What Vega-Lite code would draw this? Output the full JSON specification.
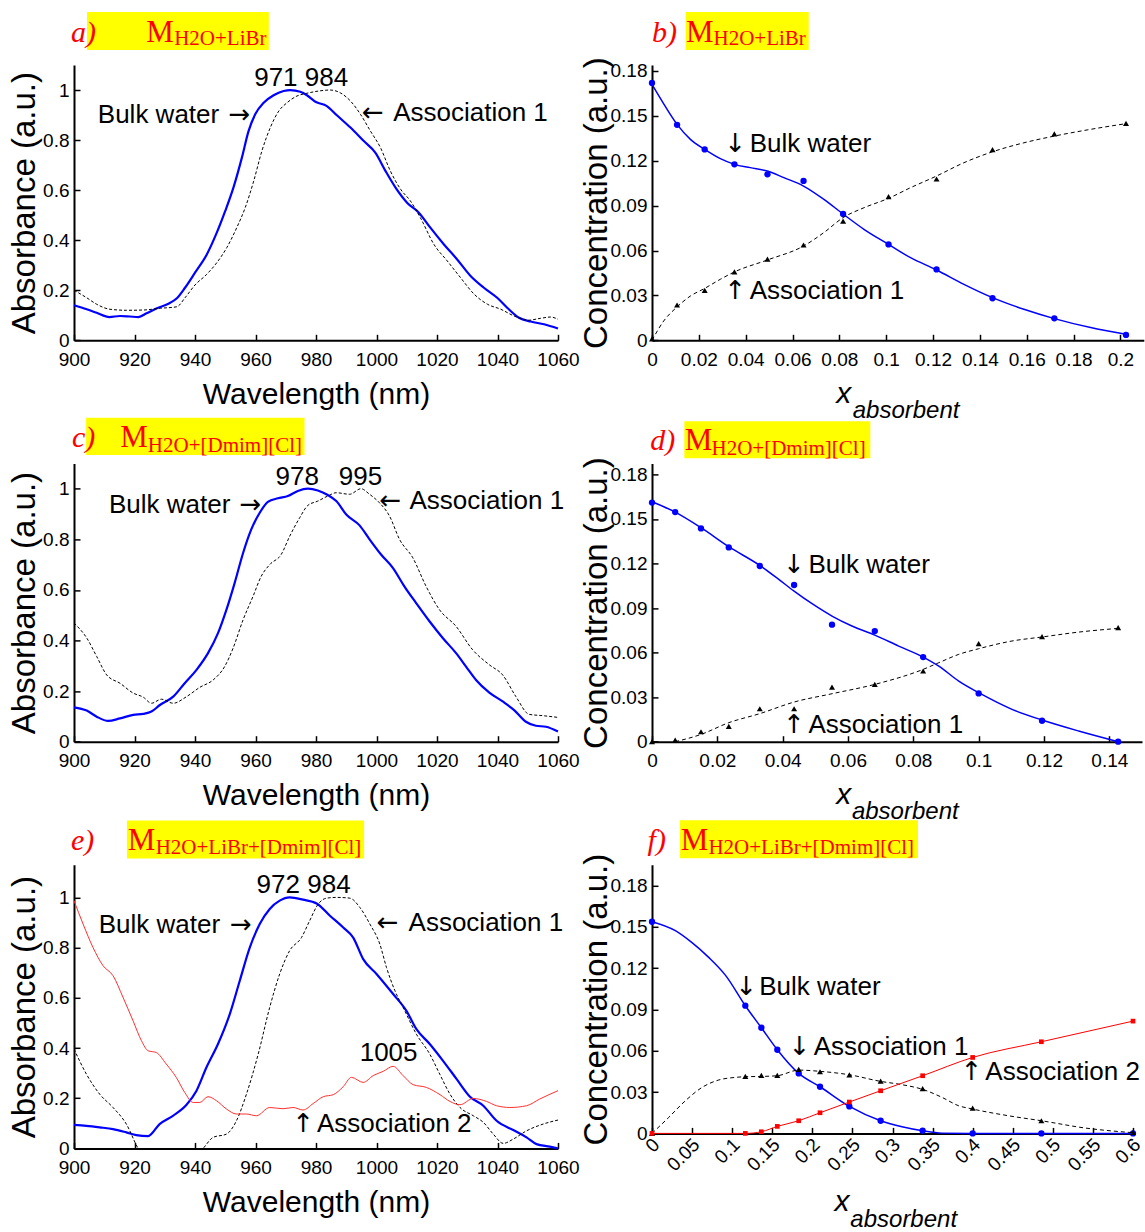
{
"$schema":"https://vega.github.io/schema/vega-lite/v6.json",
"padding":{"left":7,"top":11,"right":0,"bottom":0},
"background":"white",
"config":{
 "view":{"stroke":null},
 "font":"Liberation Sans",
 "axis":{"grid":false,"domainColor":"black","domainWidth":2,"tickColor":"black","tickWidth":1.5,"tickSize":-6,"labelFontSize":19,"labelColor":"black","labelFont":"Liberation Sans","labelFlush":false,"labelOverlap":false,"titleColor":"black","titleFont":"Liberation Sans","titleFontWeight":"normal"},
 "axisX":{"labelPadding":16},
 "axisY":{"labelPadding":11},
 "text":{"font":"Liberation Sans","fontSize":26,"color":"black","baseline":"alphabetic"}
},
"datasets":{
"aBulk":[{"x":900,"y":0.14},{"x":904.2,"y":0.124},{"x":907.5,"y":0.11},{"x":911.7,"y":0.093},{"x":915.2,"y":0.097},{"x":918.5,"y":0.095},{"x":921.3,"y":0.093},{"x":924,"y":0.108},{"x":927.4,"y":0.128},{"x":931.2,"y":0.146},{"x":934,"y":0.168},{"x":936.7,"y":0.21},{"x":940,"y":0.27},{"x":943.9,"y":0.343},{"x":947.2,"y":0.43},{"x":950,"y":0.517},{"x":952.7,"y":0.61},{"x":955.5,"y":0.73},{"x":957.7,"y":0.836},{"x":959.9,"y":0.903},{"x":962.7,"y":0.949},{"x":966,"y":0.979},{"x":969.3,"y":0.996},{"x":971.5,"y":1.0},{"x":974.8,"y":0.993},{"x":977,"y":0.979},{"x":979.8,"y":0.953},{"x":983.6,"y":0.936},{"x":986.9,"y":0.899},{"x":991.4,"y":0.85},{"x":995.8,"y":0.796},{"x":999.6,"y":0.75},{"x":1003,"y":0.676},{"x":1006.3,"y":0.61},{"x":1010.1,"y":0.55},{"x":1014,"y":0.51},{"x":1017.8,"y":0.45},{"x":1022.3,"y":0.383},{"x":1026.6,"y":0.324},{"x":1031.1,"y":0.257},{"x":1035.5,"y":0.21},{"x":1039.9,"y":0.17},{"x":1043.2,"y":0.13},{"x":1047.1,"y":0.09},{"x":1051,"y":0.075},{"x":1055.4,"y":0.064},{"x":1060,"y":0.047}],
"aAssoc":[{"x":900,"y":0.2},{"x":904.2,"y":0.17},{"x":907.5,"y":0.144},{"x":911.9,"y":0.124},{"x":917.4,"y":0.12},{"x":923,"y":0.121},{"x":928.5,"y":0.128},{"x":934,"y":0.134},{"x":936.7,"y":0.17},{"x":940,"y":0.221},{"x":943.9,"y":0.264},{"x":947.2,"y":0.31},{"x":950.5,"y":0.37},{"x":953.8,"y":0.45},{"x":956.6,"y":0.53},{"x":959.4,"y":0.636},{"x":962.1,"y":0.756},{"x":964.9,"y":0.85},{"x":967.7,"y":0.916},{"x":970.4,"y":0.949},{"x":973.7,"y":0.976},{"x":977,"y":0.987},{"x":980.9,"y":0.996},{"x":984.7,"y":1.0},{"x":988,"y":0.989},{"x":991.4,"y":0.956},{"x":994.7,"y":0.903},{"x":998,"y":0.836},{"x":1001.3,"y":0.77},{"x":1004.6,"y":0.676},{"x":1008,"y":0.603},{"x":1011.2,"y":0.557},{"x":1014.5,"y":0.49},{"x":1019,"y":0.383},{"x":1023.4,"y":0.317},{"x":1027.8,"y":0.25},{"x":1032.3,"y":0.184},{"x":1036.7,"y":0.144},{"x":1041.1,"y":0.124},{"x":1045.5,"y":0.097},{"x":1050,"y":0.08},{"x":1054.3,"y":0.088},{"x":1057.6,"y":0.093},{"x":1060,"y":0.084}],
"cBulk":[{"x":900,"y":0.136},{"x":904.2,"y":0.123},{"x":907.5,"y":0.099},{"x":911.3,"y":0.082},{"x":915.2,"y":0.092},{"x":919.6,"y":0.106},{"x":922.9,"y":0.11},{"x":925.6,"y":0.119},{"x":928.4,"y":0.145},{"x":932.8,"y":0.178},{"x":936.6,"y":0.231},{"x":940.5,"y":0.284},{"x":944.3,"y":0.35},{"x":947.6,"y":0.429},{"x":950.4,"y":0.522},{"x":953.1,"y":0.627},{"x":955.9,"y":0.746},{"x":958.6,"y":0.839},{"x":961.4,"y":0.905},{"x":964.1,"y":0.948},{"x":967.4,"y":0.962},{"x":970.7,"y":0.971},{"x":974,"y":0.991},{"x":977.3,"y":1.0},{"x":980.6,"y":0.993},{"x":983.9,"y":0.975},{"x":986.7,"y":0.951},{"x":990,"y":0.898},{"x":994.4,"y":0.855},{"x":997.7,"y":0.8},{"x":1001.5,"y":0.74},{"x":1005.4,"y":0.687},{"x":1009.2,"y":0.614},{"x":1013.1,"y":0.548},{"x":1017.5,"y":0.476},{"x":1021.9,"y":0.41},{"x":1026.3,"y":0.35},{"x":1029.6,"y":0.297},{"x":1032.9,"y":0.244},{"x":1037.3,"y":0.194},{"x":1041.7,"y":0.159},{"x":1045.5,"y":0.125},{"x":1049.4,"y":0.079},{"x":1052.7,"y":0.063},{"x":1056,"y":0.059},{"x":1060,"y":0.04}],
"cAssoc":[{"x":900,"y":0.469},{"x":904.2,"y":0.41},{"x":907.5,"y":0.337},{"x":910.8,"y":0.264},{"x":915.2,"y":0.231},{"x":919.6,"y":0.192},{"x":922.9,"y":0.176},{"x":925.6,"y":0.152},{"x":928.9,"y":0.168},{"x":932.8,"y":0.152},{"x":937.2,"y":0.178},{"x":941.6,"y":0.215},{"x":946,"y":0.244},{"x":949.8,"y":0.297},{"x":952.6,"y":0.37},{"x":955.9,"y":0.482},{"x":959.2,"y":0.575},{"x":961.9,"y":0.654},{"x":964.7,"y":0.7},{"x":968.5,"y":0.74},{"x":971.3,"y":0.812},{"x":974.6,"y":0.885},{"x":977.3,"y":0.934},{"x":980.6,"y":0.951},{"x":983.9,"y":0.971},{"x":986.7,"y":0.984},{"x":991.1,"y":0.978},{"x":994.9,"y":1.0},{"x":997.7,"y":0.978},{"x":1001,"y":0.944},{"x":1004.3,"y":0.892},{"x":1007.6,"y":0.8},{"x":1012,"y":0.727},{"x":1016.4,"y":0.614},{"x":1020.8,"y":0.522},{"x":1026.3,"y":0.456},{"x":1031.8,"y":0.363},{"x":1037.3,"y":0.304},{"x":1041.7,"y":0.264},{"x":1046.1,"y":0.178},{"x":1050.5,"y":0.108},{"x":1054.9,"y":0.103},{"x":1060,"y":0.096}],
"eBulk":[{"x":900,"y":0.094},{"x":904.1,"y":0.09},{"x":908.5,"y":0.084},{"x":912.9,"y":0.077},{"x":917.3,"y":0.064},{"x":920.6,"y":0.053},{"x":924.5,"y":0.049},{"x":928.3,"y":0.097},{"x":932.7,"y":0.13},{"x":937.2,"y":0.174},{"x":940.5,"y":0.23},{"x":943.8,"y":0.323},{"x":947.6,"y":0.416},{"x":951.5,"y":0.535},{"x":954.8,"y":0.668},{"x":958.1,"y":0.8},{"x":961.4,"y":0.894},{"x":964.7,"y":0.954},{"x":968,"y":0.987},{"x":971.3,"y":1.0},{"x":975.7,"y":0.991},{"x":980.2,"y":0.976},{"x":984.6,"y":0.927},{"x":989,"y":0.88},{"x":992.3,"y":0.84},{"x":995.6,"y":0.754},{"x":1000,"y":0.695},{"x":1005.5,"y":0.615},{"x":1009.9,"y":0.548},{"x":1013.2,"y":0.475},{"x":1017.6,"y":0.416},{"x":1022,"y":0.349},{"x":1026.5,"y":0.276},{"x":1030.9,"y":0.206},{"x":1035.3,"y":0.17},{"x":1039.7,"y":0.11},{"x":1045.2,"y":0.073},{"x":1049.6,"y":0.044},{"x":1052.9,"y":0.017},{"x":1057.3,"y":0.007},{"x":1060,"y":0.0}],
"eAssoc":[{"x":900,"y":0.396},{"x":904.1,"y":0.296},{"x":908.5,"y":0.216},{"x":912.9,"y":0.163},{"x":917.3,"y":0.097},{"x":921.2,"y":0.0},{"x":925,"y":-0.06},{"x":932,"y":-0.1},{"x":938,"y":-0.06},{"x":942.7,"y":0.0},{"x":946,"y":0.044},{"x":950.4,"y":0.057},{"x":953.7,"y":0.11},{"x":957,"y":0.216},{"x":960.9,"y":0.376},{"x":964.7,"y":0.562},{"x":968,"y":0.695},{"x":971.3,"y":0.788},{"x":975.2,"y":0.84},{"x":977.9,"y":0.907},{"x":980.7,"y":0.973},{"x":983.5,"y":0.997},{"x":986.8,"y":1.0},{"x":991.2,"y":0.997},{"x":994.5,"y":0.96},{"x":997.8,"y":0.894},{"x":1001.1,"y":0.814},{"x":1003.3,"y":0.721},{"x":1006.1,"y":0.628},{"x":1008.8,"y":0.562},{"x":1013.2,"y":0.455},{"x":1017.6,"y":0.376},{"x":1020.9,"y":0.296},{"x":1024.3,"y":0.216},{"x":1027.6,"y":0.163},{"x":1032,"y":0.13},{"x":1035.3,"y":0.104},{"x":1038.6,"y":0.057},{"x":1041.9,"y":0.02},{"x":1045.2,"y":0.037},{"x":1049.6,"y":0.07},{"x":1055.1,"y":0.097},{"x":1060,"y":0.113}],
"eA2":[{"x":900,"y":0.987},{"x":903,"y":0.894},{"x":906.3,"y":0.8},{"x":909.6,"y":0.728},{"x":912.9,"y":0.688},{"x":916.2,"y":0.602},{"x":919.5,"y":0.509},{"x":922.3,"y":0.429},{"x":924.5,"y":0.389},{"x":927.2,"y":0.382},{"x":930.5,"y":0.336},{"x":933.8,"y":0.283},{"x":936.6,"y":0.223},{"x":939.4,"y":0.183},{"x":941.6,"y":0.183},{"x":944.3,"y":0.206},{"x":947.1,"y":0.19},{"x":950.4,"y":0.157},{"x":953.7,"y":0.137},{"x":957,"y":0.137},{"x":960.3,"y":0.13},{"x":964.7,"y":0.163},{"x":969.1,"y":0.158},{"x":972.4,"y":0.163},{"x":975.7,"y":0.153},{"x":979.1,"y":0.179},{"x":982.4,"y":0.206},{"x":985.7,"y":0.214},{"x":989,"y":0.246},{"x":991.7,"y":0.283},{"x":995.6,"y":0.263},{"x":998.9,"y":0.29},{"x":1002.2,"y":0.307},{"x":1005.5,"y":0.327},{"x":1008.8,"y":0.29},{"x":1012.1,"y":0.254},{"x":1016.5,"y":0.243},{"x":1021,"y":0.214},{"x":1024.3,"y":0.187},{"x":1027.6,"y":0.174},{"x":1032,"y":0.199},{"x":1036.4,"y":0.187},{"x":1039.7,"y":0.17},{"x":1044.1,"y":0.163},{"x":1049.6,"y":0.17},{"x":1054,"y":0.197},{"x":1060,"y":0.23}],
"bBulkPts":[{"x":0,"y":0.172},{"x":0.0107,"y":0.144},{"x":0.0225,"y":0.1276},{"x":0.0352,"y":0.1176},{"x":0.0493,"y":0.1109},{"x":0.0647,"y":0.1065},{"x":0.0816,"y":0.0844},{"x":0.101,"y":0.0641},{"x":0.1215,"y":0.0474},{"x":0.1454,"y":0.0281},{"x":0.1718,"y":0.0147},{"x":0.2024,"y":0.0036}],
"bBulkLine":[{"x":0,"y":0.171},{"x":0.005,"y":0.158},{"x":0.0107,"y":0.1443},{"x":0.0164,"y":0.1343},{"x":0.0225,"y":0.1276},{"x":0.0292,"y":0.1214},{"x":0.0352,"y":0.1176},{"x":0.042,"y":0.1154},{"x":0.0493,"y":0.1131},{"x":0.0563,"y":0.1087},{"x":0.0647,"y":0.1031},{"x":0.0734,"y":0.0942},{"x":0.0816,"y":0.0844},{"x":0.0905,"y":0.0742},{"x":0.101,"y":0.0641},{"x":0.1104,"y":0.0552},{"x":0.1215,"y":0.047},{"x":0.1332,"y":0.0374},{"x":0.1454,"y":0.0285},{"x":0.1588,"y":0.0207},{"x":0.1718,"y":0.0145},{"x":0.1873,"y":0.0085},{"x":0.2024,"y":0.004}],
"bAssocPts":[{"x":0,"y":0.001},{"x":0.0107,"y":0.0236},{"x":0.0225,"y":0.0334},{"x":0.0352,"y":0.0457},{"x":0.0493,"y":0.0543},{"x":0.0647,"y":0.0637},{"x":0.0816,"y":0.0797},{"x":0.101,"y":0.096},{"x":0.1215,"y":0.1078},{"x":0.1454,"y":0.1274},{"x":0.1718,"y":0.138},{"x":0.2024,"y":0.145}],
"bAssocLine":[{"x":0,"y":0},{"x":0.005,"y":0.0129},{"x":0.0107,"y":0.0223},{"x":0.0164,"y":0.0296},{"x":0.0225,"y":0.0347},{"x":0.0292,"y":0.0408},{"x":0.0352,"y":0.0457},{"x":0.0493,"y":0.0537},{"x":0.0647,"y":0.063},{"x":0.0734,"y":0.072},{"x":0.0816,"y":0.082},{"x":0.0905,"y":0.0886},{"x":0.101,"y":0.0949},{"x":0.1104,"y":0.102},{"x":0.1215,"y":0.1098},{"x":0.1332,"y":0.1187},{"x":0.1454,"y":0.126},{"x":0.1588,"y":0.132},{"x":0.1718,"y":0.1365},{"x":0.1873,"y":0.141},{"x":0.2024,"y":0.1448}],
"dBulkPts":[{"x":0,"y":0.161},{"x":0.0071,"y":0.1546},{"x":0.015,"y":0.1436},{"x":0.0235,"y":0.1308},{"x":0.033,"y":0.1183},{"x":0.0435,"y":0.1055},{"x":0.0551,"y":0.0788},{"x":0.0682,"y":0.0745},{"x":0.083,"y":0.057},{"x":0.1,"y":0.0325},{"x":0.1194,"y":0.0141},{"x":0.1427,"y":0.0}],
"dBulkLine":[{"x":0,"y":0.1616},{"x":0.0071,"y":0.1546},{"x":0.015,"y":0.1441},{"x":0.0235,"y":0.1313},{"x":0.033,"y":0.1187},{"x":0.0388,"y":0.1093},{"x":0.0435,"y":0.1014},{"x":0.049,"y":0.0929},{"x":0.0551,"y":0.0846},{"x":0.0612,"y":0.0779},{"x":0.0682,"y":0.0718},{"x":0.0755,"y":0.0644},{"x":0.083,"y":0.057},{"x":0.0878,"y":0.0509},{"x":0.0939,"y":0.0408},{"x":0.1,"y":0.033},{"x":0.1102,"y":0.0218},{"x":0.1194,"y":0.0146},{"x":0.1306,"y":0.0072},{"x":0.1427,"y":0.0}],
"dAssocPts":[{"x":0,"y":0.0},{"x":0.0071,"y":0.001},{"x":0.015,"y":0.0067},{"x":0.0235,"y":0.0103},{"x":0.033,"y":0.0222},{"x":0.0435,"y":0.0222},{"x":0.0551,"y":0.0368},{"x":0.0682,"y":0.0386},{"x":0.083,"y":0.0476},{"x":0.1,"y":0.066},{"x":0.1194,"y":0.0707},{"x":0.1427,"y":0.0768}],
"dAssocLine":[{"x":0.0071,"y":0},{"x":0.015,"y":0.0049},{"x":0.0235,"y":0.0128},{"x":0.033,"y":0.0189},{"x":0.0435,"y":0.0267},{"x":0.0551,"y":0.0323},{"x":0.0682,"y":0.0386},{"x":0.083,"y":0.0487},{"x":0.0878,"y":0.0532},{"x":0.0939,"y":0.0588},{"x":0.1,"y":0.0626},{"x":0.1102,"y":0.0678},{"x":0.1194,"y":0.0705},{"x":0.1306,"y":0.0738},{"x":0.1427,"y":0.0763}],
"fBulkPts":[{"x":0,"y":0.1538},{"x":0.1164,"y":0.0928},{"x":0.1364,"y":0.0768},{"x":0.1563,"y":0.0608},{"x":0.183,"y":0.0436},{"x":0.2096,"y":0.0339},{"x":0.2462,"y":0.0196},{"x":0.2852,"y":0.0092},{"x":0.3376,"y":0.0019},{"x":0.4,"y":0},{"x":0.4857,"y":0},{"x":0.6,"y":0}],
"fBulkLine":[{"x":0,"y":0.1538},{"x":0.0291,"y":0.1473},{"x":0.0499,"y":0.1386},{"x":0.0707,"y":0.1279},{"x":0.0915,"y":0.115},{"x":0.1164,"y":0.0928},{"x":0.1364,"y":0.0768},{"x":0.1563,"y":0.0608},{"x":0.183,"y":0.0436},{"x":0.2096,"y":0.0339},{"x":0.2462,"y":0.0196},{"x":0.2852,"y":0.0092},{"x":0.3119,"y":0.0048},{"x":0.3376,"y":0.0019},{"x":0.3617,"y":0.0002},{"x":0.4,"y":0},{"x":0.4857,"y":0},{"x":0.6,"y":0}],
"fA1Pts":[{"x":0,"y":0},{"x":0.1164,"y":0.0414},{"x":0.1364,"y":0.0421},{"x":0.1563,"y":0.0421},{"x":0.183,"y":0.0465},{"x":0.2096,"y":0.0448},{"x":0.2462,"y":0.0426},{"x":0.2852,"y":0.038},{"x":0.3376,"y":0.0325},{"x":0.4,"y":0.0184},{"x":0.4857,"y":0.0092},{"x":0.6,"y":0.0007}],
"fA1Line":[{"x":0,"y":0},{"x":0.0208,"y":0.0116},{"x":0.0416,"y":0.0237},{"x":0.0624,"y":0.0334},{"x":0.0832,"y":0.0388},{"x":0.104,"y":0.0407},{"x":0.1164,"y":0.0412},{"x":0.1364,"y":0.0414},{"x":0.1563,"y":0.0419},{"x":0.183,"y":0.046},{"x":0.2096,"y":0.0451},{"x":0.2462,"y":0.0426},{"x":0.2852,"y":0.0378},{"x":0.3119,"y":0.0354},{"x":0.3376,"y":0.032},{"x":0.3617,"y":0.0262},{"x":0.3825,"y":0.0201},{"x":0.4,"y":0.0177},{"x":0.4449,"y":0.0128},{"x":0.4857,"y":0.0092},{"x":0.5405,"y":0.0039},{"x":0.6,"y":0.0005}],
"fA2":[{"x":0,"y":0},{"x":0.1164,"y":0},{"x":0.1364,"y":0.0012},{"x":0.1563,"y":0.0051},{"x":0.183,"y":0.0092},{"x":0.2096,"y":0.015},{"x":0.2462,"y":0.0228},{"x":0.2852,"y":0.031},{"x":0.3376,"y":0.0419},{"x":0.4,"y":0.0552},{"x":0.4857,"y":0.0666},{"x":0.6,"y":0.0816}],
"one":[{}]
},
"columns":2,
"spacing":{"row":122.4,"column":94},
"bounds":"flush",
"concat":[
{"width":484,"height":275.3,"layer":[
 {"data":{"name":"aBulk"},"mark":{"type":"line","color":"#0000ff","strokeWidth":2.2,"interpolate":"monotone"},"encoding":{
   "x":{"field":"x","type":"quantitative","scale":{"domain":[900,1060],"nice":false,"zero":false},"axis":{"title":"Wavelength (nm)","values":[900,920,940,960,980,1000,1020,1040,1060],"format":"d","titleFontSize":30,"titleY":63,"titleBaseline":"alphabetic"}},
   "y":{"field":"y","type":"quantitative","scale":{"domain":[0,1.1],"nice":false},"axis":{"title":"Absorbance (a.u.)","values":[0,0.2,0.4,0.6,0.8,1],"format":"~g","titleFontSize":33,"titleX":-40,"titleBaseline":"alphabetic","titleAngle":270}}}},
 {"data":{"name":"aAssoc"},"mark":{"type":"line","color":"black","strokeWidth":1,"strokeDash":[3,2],"interpolate":"monotone"},"encoding":{"x":{"field":"x","type":"quantitative"},"y":{"field":"y","type":"quantitative"}}},
 {"data":{"name":"one"},"mark":{"type":"rect","color":"#ffff00"},"encoding":{"x":{"datum":904.3},"x2":{"datum":964.4},"y":{"datum":1.16},"y2":{"datum":1.3116}}},
 {"data":{"name":"one"},"mark":{"type":"text","text":"a)","font":"Liberation Serif","fontStyle":"italic","fontSize":30,"color":"#ff0000","align":"left"},"encoding":{"x":{"datum":899.0},"y":{"datum":1.193}}},
 {"data":{"name":"one"},"mark":{"type":"text","text":"M","font":"Liberation Serif","fontSize":31,"color":"#ff0000","align":"left"},"encoding":{"x":{"datum":923.9},"y":{"datum":1.193}}},
 {"data":{"name":"one"},"mark":{"type":"text","text":"H2O+LiBr","font":"Liberation Serif","fontSize":21,"color":"#ff0000","align":"left"},"encoding":{"x":{"datum":933.1},"y":{"datum":1.1797}}},
 {"data":{"name":"one"},"mark":{"type":"text","text":"971 984","align":"center"},"encoding":{"x":{"datum":975.1},"y":{"datum":1.016}}},
 {"data":{"name":"one"},"mark":{"type":"text","text":"Bulk water","align":"right"},"encoding":{"x":{"datum":948.0},"y":{"datum":0.867}}},
 {"data":{"name":"one"},"mark":{"type":"text","text":"→","font":"DejaVu Sans","align":"right"},"encoding":{"x":{"datum":958.3},"y":{"datum":0.867}}},
 {"data":{"name":"one"},"mark":{"type":"text","text":"←","font":"DejaVu Sans","align":"left"},"encoding":{"x":{"datum":995.2},"y":{"datum":0.876}}},
 {"data":{"name":"one"},"mark":{"type":"text","text":"Association 1","align":"left"},"encoding":{"x":{"datum":1005.5},"y":{"datum":0.876}}}
]},
{"width":491.8,"height":275.3,"layer":[
 {"data":{"name":"bBulkLine"},"mark":{"type":"line","color":"#0000ff","strokeWidth":1.5,"interpolate":"monotone"},"encoding":{
   "x":{"field":"x","type":"quantitative","scale":{"domain":[0,0.21],"nice":false},"axis":{"title":null,"values":[0,0.02,0.04,0.06,0.08,0.1,0.12,0.14,0.16,0.18,0.2],"format":"~g"}},
   "y":{"field":"y","type":"quantitative","scale":{"domain":[0,0.184],"nice":false},"axis":{"title":"Concentration (a.u.)","values":[0,0.03,0.06,0.09,0.12,0.15,0.18],"format":"~g","titleFontSize":33,"titleX":-46,"titleBaseline":"alphabetic","titleAngle":270}}}},
 {"data":{"name":"bBulkPts"},"mark":{"type":"circle","color":"#0000ff","size":40,"opacity":1},"encoding":{"x":{"field":"x","type":"quantitative"},"y":{"field":"y","type":"quantitative"}}},
 {"data":{"name":"bAssocLine"},"mark":{"type":"line","color":"black","strokeWidth":1,"strokeDash":[4,3],"interpolate":"monotone"},"encoding":{"x":{"field":"x","type":"quantitative"},"y":{"field":"y","type":"quantitative"}}},
 {"data":{"name":"bAssocPts"},"mark":{"type":"point","shape":"triangle-up","filled":true,"color":"black","size":36,"opacity":1},"encoding":{"x":{"field":"x","type":"quantitative"},"y":{"field":"y","type":"quantitative"}}},
 {"data":{"name":"one"},"mark":{"type":"rect","color":"#ffff00"},"encoding":{"x":{"datum":0.01439},"x2":{"datum":0.06691},"y":{"datum":0.19404},"y2":{"datum":0.21943}}},
 {"data":{"name":"one"},"mark":{"type":"text","text":"b)","font":"Liberation Serif","fontStyle":"italic","fontSize":30,"color":"#ff0000","align":"left"},"encoding":{"x":{"datum":0},"y":{"datum":0.1996}}},
 {"data":{"name":"one"},"mark":{"type":"text","text":"M","font":"Liberation Serif","fontSize":31,"color":"#ff0000","align":"left"},"encoding":{"x":{"datum":0.01452},"y":{"datum":0.1996}}},
 {"data":{"name":"one"},"mark":{"type":"text","text":"H2O+LiBr","font":"Liberation Serif","fontSize":21,"color":"#ff0000","align":"left"},"encoding":{"x":{"datum":0.02626},"y":{"datum":0.1974}}},
 {"data":{"name":"one"},"mark":{"type":"text","text":"↓","font":"DejaVu Sans","align":"center"},"encoding":{"x":{"datum":0.0355},"y":{"datum":0.1261}}},
 {"data":{"name":"one"},"mark":{"type":"text","text":"Bulk water","align":"left"},"encoding":{"x":{"datum":0.0417},"y":{"datum":0.1261}}},
 {"data":{"name":"one"},"mark":{"type":"text","text":"↑","font":"DejaVu Sans","align":"center"},"encoding":{"x":{"datum":0.0355},"y":{"datum":0.0274}}},
 {"data":{"name":"one"},"mark":{"type":"text","text":"Association 1","align":"left"},"encoding":{"x":{"datum":0.0417},"y":{"datum":0.0274}}},
 {"data":{"name":"one"},"mark":{"type":"text","text":"x","fontSize":30,"fontStyle":"italic","align":"left"},"encoding":{"x":{"datum":0.0787},"y":{"datum":-0.0417}}},
 {"data":{"name":"one"},"mark":{"type":"text","text":"absorbent","fontSize":24,"fontStyle":"italic","align":"left"},"encoding":{"x":{"datum":0.0857},"y":{"datum":-0.0517}}}
]},
{"width":484,"height":278.3,"layer":[
 {"data":{"name":"cBulk"},"mark":{"type":"line","color":"#0000ff","strokeWidth":2.2,"interpolate":"monotone"},"encoding":{
   "x":{"field":"x","type":"quantitative","scale":{"domain":[900,1060],"nice":false,"zero":false},"axis":{"title":"Wavelength (nm)","values":[900,920,940,960,980,1000,1020,1040,1060],"format":"d","titleFontSize":30,"titleY":63,"titleBaseline":"alphabetic"}},
   "y":{"field":"y","type":"quantitative","scale":{"domain":[0,1.1],"nice":false},"axis":{"title":"Absorbance (a.u.)","values":[0,0.2,0.4,0.6,0.8,1],"format":"~g","titleFontSize":33,"titleX":-40,"titleBaseline":"alphabetic","titleAngle":270}}}},
 {"data":{"name":"cAssoc"},"mark":{"type":"line","color":"black","strokeWidth":1,"strokeDash":[3,2],"interpolate":"monotone"},"encoding":{"x":{"field":"x","type":"quantitative"},"y":{"field":"y","type":"quantitative"}}},
 {"data":{"name":"one"},"mark":{"type":"rect","color":"#ffff00"},"encoding":{"x":{"datum":904.0},"x2":{"datum":976.2},"y":{"datum":1.1336},"y2":{"datum":1.2802}}},
 {"data":{"name":"one"},"mark":{"type":"text","text":"c)","font":"Liberation Serif","fontStyle":"italic","fontSize":30,"color":"#ff0000","align":"left"},"encoding":{"x":{"datum":899.3},"y":{"datum":1.165}}},
 {"data":{"name":"one"},"mark":{"type":"text","text":"M","font":"Liberation Serif","fontSize":31,"color":"#ff0000","align":"left"},"encoding":{"x":{"datum":915.3},"y":{"datum":1.165}}},
 {"data":{"name":"one"},"mark":{"type":"text","text":"H2O+[Dmim][Cl]","font":"Liberation Serif","fontSize":21,"color":"#ff0000","align":"left"},"encoding":{"x":{"datum":924.4},"y":{"datum":1.147}}},
 {"data":{"name":"one"},"mark":{"type":"text","text":"978","align":"center"},"encoding":{"x":{"datum":973.8},"y":{"datum":1.0135}}},
 {"data":{"name":"one"},"mark":{"type":"text","text":"995","align":"center"},"encoding":{"x":{"datum":994.7},"y":{"datum":1.0135}}},
 {"data":{"name":"one"},"mark":{"type":"text","text":"Bulk water","align":"right"},"encoding":{"x":{"datum":951.7},"y":{"datum":0.905}}},
 {"data":{"name":"one"},"mark":{"type":"text","text":"→","font":"DejaVu Sans","align":"right"},"encoding":{"x":{"datum":961.9},"y":{"datum":0.905}}},
 {"data":{"name":"one"},"mark":{"type":"text","text":"←","font":"DejaVu Sans","align":"left"},"encoding":{"x":{"datum":1001},"y":{"datum":0.918}}},
 {"data":{"name":"one"},"mark":{"type":"text","text":"Association 1","align":"left"},"encoding":{"x":{"datum":1010.9},"y":{"datum":0.918}}}
]},
{"width":490,"height":278.3,"layer":[
 {"data":{"name":"dBulkLine"},"mark":{"type":"line","color":"#0000ff","strokeWidth":1.5,"interpolate":"monotone"},"encoding":{
   "x":{"field":"x","type":"quantitative","scale":{"domain":[0,0.15],"nice":false},"axis":{"title":null,"values":[0,0.02,0.04,0.06,0.08,0.1,0.12,0.14],"format":"~g"}},
   "y":{"field":"y","type":"quantitative","scale":{"domain":[0,0.1874],"nice":false},"axis":{"title":"Concentration (a.u.)","values":[0,0.03,0.06,0.09,0.12,0.15,0.18],"format":"~g","titleFontSize":33,"titleX":-46,"titleBaseline":"alphabetic","titleAngle":270}}}},
 {"data":{"name":"dBulkPts"},"mark":{"type":"circle","color":"#0000ff","size":40,"opacity":1},"encoding":{"x":{"field":"x","type":"quantitative"},"y":{"field":"y","type":"quantitative"}}},
 {"data":{"name":"dAssocLine"},"mark":{"type":"line","color":"black","strokeWidth":1,"strokeDash":[4,3],"interpolate":"monotone"},"encoding":{"x":{"field":"x","type":"quantitative"},"y":{"field":"y","type":"quantitative"}}},
 {"data":{"name":"dAssocPts"},"mark":{"type":"point","shape":"triangle-up","filled":true,"color":"black","size":36,"opacity":1},"encoding":{"x":{"field":"x","type":"quantitative"},"y":{"field":"y","type":"quantitative"}}},
 {"data":{"name":"one"},"mark":{"type":"rect","color":"#ffff00"},"encoding":{"x":{"datum":0.00989},"x2":{"datum":0.06683},"y":{"datum":0.1908},"y2":{"datum":0.2157}}},
 {"data":{"name":"one"},"mark":{"type":"text","text":"d)","font":"Liberation Serif","fontStyle":"italic","fontSize":30,"color":"#ff0000","align":"left"},"encoding":{"x":{"datum":-0.0005},"y":{"datum":0.1962}}},
 {"data":{"name":"one"},"mark":{"type":"text","text":"M","font":"Liberation Serif","fontSize":31,"color":"#ff0000","align":"left"},"encoding":{"x":{"datum":0.01001},"y":{"datum":0.1962}}},
 {"data":{"name":"one"},"mark":{"type":"text","text":"H2O+[Dmim][Cl]","font":"Liberation Serif","fontSize":21,"color":"#ff0000","align":"left"},"encoding":{"x":{"datum":0.01821},"y":{"datum":0.193}}},
 {"data":{"name":"one"},"mark":{"type":"text","text":"↓","font":"DejaVu Sans","align":"center"},"encoding":{"x":{"datum":0.0434},"y":{"datum":0.1138}}},
 {"data":{"name":"one"},"mark":{"type":"text","text":"Bulk water","align":"left"},"encoding":{"x":{"datum":0.0479},"y":{"datum":0.1138}}},
 {"data":{"name":"one"},"mark":{"type":"text","text":"↑","font":"DejaVu Sans","align":"center"},"encoding":{"x":{"datum":0.0434},"y":{"datum":0.0061}}},
 {"data":{"name":"one"},"mark":{"type":"text","text":"Association 1","align":"left"},"encoding":{"x":{"datum":0.0479},"y":{"datum":0.0061}}},
 {"data":{"name":"one"},"mark":{"type":"text","text":"x","fontSize":30,"fontStyle":"italic","align":"left"},"encoding":{"x":{"datum":0.0564},"y":{"datum":-0.0422}}},
 {"data":{"name":"one"},"mark":{"type":"text","text":"absorbent","fontSize":24,"fontStyle":"italic","align":"left"},"encoding":{"x":{"datum":0.0612},"y":{"datum":-0.0523}}}
]},
{"width":484,"height":283.6,"layer":[
 {"data":{"name":"eBulk"},"mark":{"type":"line","color":"#0000ff","strokeWidth":2.2,"interpolate":"monotone"},"encoding":{
   "x":{"field":"x","type":"quantitative","scale":{"domain":[900,1060],"nice":false,"zero":false},"axis":{"title":"Wavelength (nm)","values":[900,920,940,960,980,1000,1020,1040,1060],"format":"d","titleFontSize":30,"titleY":63,"titleBaseline":"alphabetic"}},
   "y":{"field":"y","type":"quantitative","scale":{"domain":[0,1.1299],"nice":false},"axis":{"title":"Absorbance (a.u.)","values":[0,0.2,0.4,0.6,0.8,1],"format":"~g","titleFontSize":33,"titleX":-40,"titleBaseline":"alphabetic","titleAngle":270}}}},
 {"data":{"name":"eAssoc"},"mark":{"type":"line","color":"black","strokeWidth":1,"strokeDash":[3,2],"interpolate":"monotone","clip":true},"encoding":{"x":{"field":"x","type":"quantitative"},"y":{"field":"y","type":"quantitative"}}},
 {"data":{"name":"eA2"},"mark":{"type":"line","color":"#ff3030","strokeWidth":1,"interpolate":"monotone"},"encoding":{"x":{"field":"x","type":"quantitative"},"y":{"field":"y","type":"quantitative"}}},
 {"data":{"name":"one"},"mark":{"type":"rect","color":"#ffff00"},"encoding":{"x":{"datum":917.5},"x2":{"datum":995.9},"y":{"datum":1.1554},"y2":{"datum":1.3068}}},
 {"data":{"name":"one"},"mark":{"type":"text","text":"e)","font":"Liberation Serif","fontStyle":"italic","fontSize":30,"color":"#ff0000","align":"left"},"encoding":{"x":{"datum":899},"y":{"datum":1.19}}},
 {"data":{"name":"one"},"mark":{"type":"text","text":"M","font":"Liberation Serif","fontSize":31,"color":"#ff0000","align":"left"},"encoding":{"x":{"datum":917.8},"y":{"datum":1.19}}},
 {"data":{"name":"one"},"mark":{"type":"text","text":"H2O+LiBr+[Dmim][Cl]","font":"Liberation Serif","fontSize":21,"color":"#ff0000","align":"left"},"encoding":{"x":{"datum":927},"y":{"datum":1.1725}}},
 {"data":{"name":"one"},"mark":{"type":"text","text":"972 984","align":"center"},"encoding":{"x":{"datum":975.9},"y":{"datum":1.016}}},
 {"data":{"name":"one"},"mark":{"type":"text","text":"Bulk water","align":"right"},"encoding":{"x":{"datum":948.3},"y":{"datum":0.8566}}},
 {"data":{"name":"one"},"mark":{"type":"text","text":"→","font":"DejaVu Sans","align":"right"},"encoding":{"x":{"datum":958.8},"y":{"datum":0.8566}}},
 {"data":{"name":"one"},"mark":{"type":"text","text":"←","font":"DejaVu Sans","align":"left"},"encoding":{"x":{"datum":1000.1},"y":{"datum":0.8645}}},
 {"data":{"name":"one"},"mark":{"type":"text","text":"Association 1","align":"left"},"encoding":{"x":{"datum":1010.6},"y":{"datum":0.8645}}},
 {"data":{"name":"one"},"mark":{"type":"text","text":"1005","align":"center"},"encoding":{"x":{"datum":1004},"y":{"datum":0.3466}}},
 {"data":{"name":"one"},"mark":{"type":"text","text":"↑","font":"DejaVu Sans","align":"center"},"encoding":{"x":{"datum":975.75},"y":{"datum":0.0637}}},
 {"data":{"name":"one"},"mark":{"type":"text","text":"Association 2","align":"left"},"encoding":{"x":{"datum":980.3},"y":{"datum":0.0637}}}
]},
{"width":481,"height":268.6,"layer":[
 {"data":{"name":"fBulkLine"},"mark":{"type":"line","color":"#0000ff","strokeWidth":1.5,"interpolate":"monotone"},"encoding":{
   "x":{"field":"x","type":"quantitative","scale":{"domain":[0,0.6],"nice":false},"axis":{"title":null,"values":[0,0.05,0.1,0.15,0.2,0.25,0.3,0.35,0.4,0.45,0.5,0.55,0.6],"format":"~g","labelAngle":-45,"labelAlign":"right","labelBaseline":"middle","labelPadding":14,"labelOffset":4}},
   "y":{"field":"y","type":"quantitative","scale":{"domain":[0,0.1952],"nice":false},"axis":{"title":"Concentration (a.u.)","values":[0,0.03,0.06,0.09,0.12,0.15,0.18],"format":"~g","titleFontSize":33,"titleX":-46,"titleBaseline":"alphabetic","titleAngle":270}}}},
 {"data":{"name":"fBulkPts"},"mark":{"type":"circle","color":"#0000ff","size":40,"opacity":1},"encoding":{"x":{"field":"x","type":"quantitative"},"y":{"field":"y","type":"quantitative"}}},
 {"data":{"name":"fA1Line"},"mark":{"type":"line","color":"black","strokeWidth":1,"strokeDash":[4,3],"interpolate":"monotone"},"encoding":{"x":{"field":"x","type":"quantitative"},"y":{"field":"y","type":"quantitative"}}},
 {"data":{"name":"fA1Pts"},"mark":{"type":"point","shape":"triangle-up","filled":true,"color":"black","size":36,"opacity":1},"encoding":{"x":{"field":"x","type":"quantitative"},"y":{"field":"y","type":"quantitative"}}},
 {"data":{"name":"fA2"},"mark":{"type":"line","color":"#ff0000","strokeWidth":1,"interpolate":"monotone"},"encoding":{"x":{"field":"x","type":"quantitative"},"y":{"field":"y","type":"quantitative"}}},
 {"data":{"name":"fA2"},"mark":{"type":"square","color":"#ff0000","size":22,"opacity":1},"encoding":{"x":{"field":"x","type":"quantitative"},"y":{"field":"y","type":"quantitative"}}},
 {"data":{"name":"one"},"mark":{"type":"rect","color":"#ffff00"},"encoding":{"x":{"datum":0.0349},"x2":{"datum":0.3318},"y":{"datum":0.1999},"y2":{"datum":0.2275}}},
 {"data":{"name":"one"},"mark":{"type":"text","text":"f)","font":"Liberation Serif","fontStyle":"italic","fontSize":30,"color":"#ff0000","align":"left"},"encoding":{"x":{"datum":-0.0055},"y":{"datum":0.2062}}},
 {"data":{"name":"one"},"mark":{"type":"text","text":"M","font":"Liberation Serif","fontSize":31,"color":"#ff0000","align":"left"},"encoding":{"x":{"datum":0.0358},"y":{"datum":0.2062}}},
 {"data":{"name":"one"},"mark":{"type":"text","text":"H2O+LiBr+[Dmim][Cl]","font":"Liberation Serif","fontSize":21,"color":"#ff0000","align":"left"},"encoding":{"x":{"datum":0.0704},"y":{"datum":0.203}}},
 {"data":{"name":"one"},"mark":{"type":"text","text":"↓","font":"DejaVu Sans","align":"center"},"encoding":{"x":{"datum":0.1175},"y":{"datum":0.1008}}},
 {"data":{"name":"one"},"mark":{"type":"text","text":"Bulk water","align":"left"},"encoding":{"x":{"datum":0.1338},"y":{"datum":0.1008}}},
 {"data":{"name":"one"},"mark":{"type":"text","text":"↓","font":"DejaVu Sans","align":"center"},"encoding":{"x":{"datum":0.184},"y":{"datum":0.0572}}},
 {"data":{"name":"one"},"mark":{"type":"text","text":"Association 1","align":"left"},"encoding":{"x":{"datum":0.2017},"y":{"datum":0.0572}}},
 {"data":{"name":"one"},"mark":{"type":"text","text":"↑","font":"DejaVu Sans","align":"center"},"encoding":{"x":{"datum":0.3985},"y":{"datum":0.0387}}},
 {"data":{"name":"one"},"mark":{"type":"text","text":"Association 2","align":"left"},"encoding":{"x":{"datum":0.4158},"y":{"datum":0.0387}}},
 {"data":{"name":"one"},"mark":{"type":"text","text":"x","fontSize":30,"fontStyle":"italic","align":"left"},"encoding":{"x":{"datum":0.2275},"y":{"datum":-0.0562}}},
 {"data":{"name":"one"},"mark":{"type":"text","text":"absorbent","fontSize":24,"fontStyle":"italic","align":"left"},"encoding":{"x":{"datum":0.2474},"y":{"datum":-0.0683}}}
]}
]
}
